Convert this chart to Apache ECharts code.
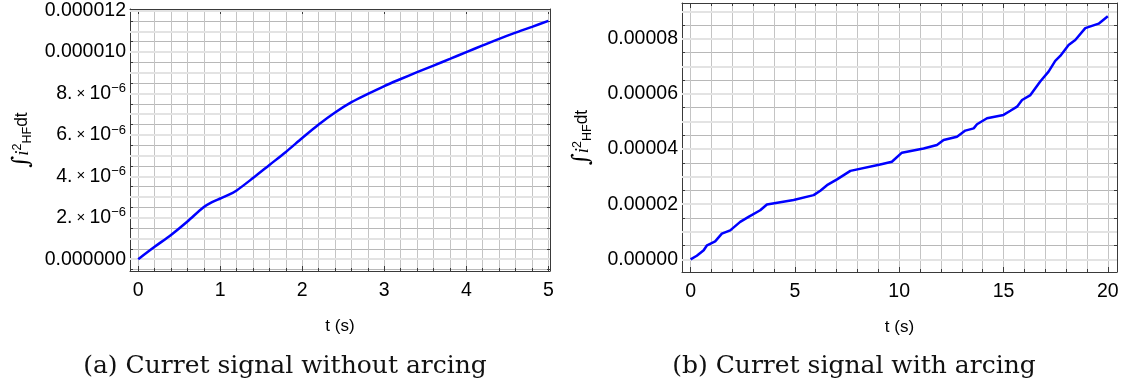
<!DOCTYPE html>
<html><head><meta charset="utf-8">
<script src="https://cdn.jsdelivr.net/npm/echarts@6/dist/echarts.min.js"></script>
<style>html,body{margin:0;padding:0;background:#fff}#c{width:1131px;height:392px}</style>
</head><body><div id="c"></div><script>
// ---- Panel (a): without arcing ----
const timeA = [0, 0.2, 0.4, 0.6, 0.8, 0.9, 1.0, 1.1, 1.2, 1.4, 1.6, 1.8, 2.0, 2.2, 2.4, 2.6, 2.8, 3.0, 3.2, 3.4, 3.6, 3.8, 4.0, 4.2, 4.4, 4.6, 4.8, 5.0];
const energyA = [0, 0.60e-6, 1.17e-6, 1.82e-6, 2.52e-6, 2.76e-6, 2.93e-6, 3.10e-6, 3.32e-6, 3.92e-6, 4.55e-6, 5.18e-6, 5.85e-6, 6.50e-6, 7.08e-6, 7.58e-6, 7.98e-6, 8.36e-6, 8.70e-6, 9.03e-6, 9.35e-6, 9.67e-6, 10.00e-6, 10.32e-6, 10.64e-6, 10.94e-6, 11.22e-6, 11.51e-6];
// ---- Panel (b): with arcing ----
const timeB = [0, 0.3, 0.63, 0.79, 1.18, 1.5, 1.9, 2.38, 2.78, 3.34, 3.66, 4.94, 5.9, 6.22, 6.54, 7.02, 7.66, 9.09, 9.65, 10.13, 11.17, 11.81, 12.13, 12.77, 13.17, 13.57, 13.73, 14.21, 15.0, 15.33, 15.65, 15.89, 16.29, 16.76, 17.16, 17.48, 17.72, 18.12, 18.44, 18.92, 19.56, 20.0];
const energyB = [0, 0.13e-5, 0.33e-5, 0.51e-5, 0.65e-5, 0.93e-5, 1.05e-5, 1.36e-5, 1.54e-5, 1.78e-5, 1.99e-5, 2.15e-5, 2.33e-5, 2.49e-5, 2.69e-5, 2.90e-5, 3.21e-5, 3.44e-5, 3.54e-5, 3.87e-5, 4.02e-5, 4.15e-5, 4.33e-5, 4.45e-5, 4.67e-5, 4.75e-5, 4.90e-5, 5.12e-5, 5.24e-5, 5.39e-5, 5.54e-5, 5.78e-5, 5.96e-5, 6.45e-5, 6.81e-5, 7.20e-5, 7.38e-5, 7.78e-5, 7.96e-5, 8.39e-5, 8.55e-5, 8.82e-5];
// ---- Tick labels ----
const yTicksA = [0, 2e-6, 4e-6, 6e-6, 8e-6, 10e-6, 12e-6];
const yTickTextA = ['0.000000', '{m|2.}{x| × }{m|10}{s|−6}', '{m|4.}{x| × }{m|10}{s|−6}', '{m|6.}{x| × }{m|10}{s|−6}', '{m|8.}{x| × }{m|10}{s|−6}', '0.000010', '0.000012'];
const yTicksB = [0, 2e-5, 4e-5, 6e-5, 8e-5];
const yTickTextB = ['0.00000', '0.00002', '0.00004', '0.00006', '0.00008'];
const xTicksA = [0, 1, 2, 3, 4, 5];
const xTicksB = [0, 5, 10, 15, 20];
const xTitle = 't (s)';
const yTitle = '{int|∫}{it|i}{sup|2}{sub|HF}{n|dt}';
const captions = ['(a) Curret signal without arcing', '(b) Curret signal with arcing'];

const SANS = '"Liberation Sans", Arial, sans-serif';
const FRAME = '#3a3a3a';

function lookup(ticks, texts) {
  return function (v) {
    for (let i = 0; i < ticks.length; i++) {
      const tol = Math.abs(ticks[1] - ticks[0]) * 1e-4;
      if (Math.abs(v - ticks[i]) < tol) return texts[i];
    }
    return '';
  };
}
const labelRich = {
  m: {fontSize: 19.5, fontFamily: SANS, color: '#000'},
  x: {fontSize: 15, fontFamily: SANS, color: '#000'},
  s: {fontSize: 13, fontFamily: SANS, color: '#000', verticalAlign: 'top', padding: [0, 0, 10, 0]}
};
const nameRich = {
  int: {fontSize: 23, fontFamily: '"DejaVu Serif", serif', color: '#000', fontStyle: 'italic'},
  it: {fontSize: 19, fontFamily: '"Liberation Serif", serif', color: '#000', fontStyle: 'italic'},
  sup: {fontSize: 12.5, fontFamily: SANS, color: '#000', padding: [0, 0, 10, 0]},
  sub: {fontSize: 12.5, fontFamily: SANS, color: '#000', padding: [10, 0, 0, 0]},
  n: {fontSize: 17.5, fontFamily: SANS, color: '#000'}
};

function xAxes(grid, min, max, major, minor, ticks, name) {
  const base = {type: 'value', gridIndex: grid, min: min, max: max, splitNumber: 50};
  const lineOn = {show: true, onZero: false, lineStyle: {color: FRAME, width: 1}};
  const lineOff = {show: false, onZero: false};
  return [
    Object.assign({}, base, {position: 'bottom', minInterval: major, maxInterval: major,
      axisLine: lineOn, axisTick: {show: true, inside: true, length: 5, lineStyle: {color: FRAME}},
      axisLabel: {show: true, margin: 10, fontSize: 19.5, fontFamily: SANS, color: '#000',
        formatter: lookup(ticks, ticks.map(String))},
      splitLine: {show: false},
      name: name, nameLocation: 'middle', nameGap: 47,
      nameTextStyle: {fontSize: 17, fontFamily: SANS, color: '#000'}}),
    Object.assign({}, base, {position: 'bottom', minInterval: minor, maxInterval: minor,
      axisLine: lineOff, axisTick: {show: true, inside: true, length: 3, lineStyle: {color: FRAME}},
      axisLabel: {show: false},
      splitLine: {show: true, showMinLine: false, showMaxLine: false, lineStyle: {color: '#c4c4c4', width: 1}}}),
    Object.assign({}, base, {position: 'top', minInterval: major, maxInterval: major,
      axisLine: lineOn, axisTick: {show: true, inside: true, length: 5, lineStyle: {color: FRAME}},
      axisLabel: {show: false}, splitLine: {show: false}}),
    Object.assign({}, base, {position: 'top', minInterval: minor, maxInterval: minor,
      axisLine: lineOff, axisTick: {show: true, inside: true, length: 3, lineStyle: {color: FRAME}},
      axisLabel: {show: false}, splitLine: {show: false}})
  ];
}
function yAxes(grid, min, max, major, minor, light, ticks, texts, nameGap) {
  const base = {type: 'value', gridIndex: grid, min: min, max: max, splitNumber: 50};
  const lineOn = {show: true, onZero: false, lineStyle: {color: FRAME, width: 1}};
  const lineOff = {show: false, onZero: false};
  return [
    Object.assign({}, base, {position: 'left', minInterval: major, maxInterval: major,
      axisLine: lineOn, axisTick: {show: true, inside: true, length: 5, lineStyle: {color: FRAME}},
      axisLabel: {show: true, margin: 4, fontSize: 19.5, fontFamily: SANS, color: '#000',
        formatter: lookup(ticks, texts), rich: labelRich},
      splitLine: {show: false},
      name: yTitle, nameLocation: 'middle', nameRotate: 90, nameGap: nameGap,
      nameTextStyle: {fontSize: 17.5, fontFamily: SANS, color: '#000', rich: nameRich}}),
    Object.assign({}, base, {position: 'left', minInterval: minor, maxInterval: minor,
      axisLine: lineOff, axisTick: {show: true, inside: true, length: 3, lineStyle: {color: FRAME}},
      axisLabel: {show: false},
      splitLine: {show: true, showMinLine: false, showMaxLine: false, lineStyle: {color: '#b8b8b8', width: 1}}}),
    Object.assign({}, base, {position: 'left', minInterval: light, maxInterval: light, z: 1,
      axisLine: lineOff, axisTick: {show: false}, axisLabel: {show: false},
      splitLine: {show: true, showMinLine: false, showMaxLine: false, lineStyle: {color: '#e3e3e3', width: 2}}}),
    Object.assign({}, base, {position: 'right', minInterval: major, maxInterval: major,
      axisLine: lineOn, axisTick: {show: true, inside: true, length: 5, lineStyle: {color: FRAME}},
      axisLabel: {show: false}, splitLine: {show: false}}),
    Object.assign({}, base, {position: 'right', minInterval: minor, maxInterval: minor,
      axisLine: lineOff, axisTick: {show: true, inside: true, length: 3, lineStyle: {color: FRAME}},
      axisLabel: {show: false}, splitLine: {show: false}})
  ];
}

const chart = echarts.init(document.getElementById('c'), null, {renderer: 'canvas'});
chart.setOption({
  animation: false,
  backgroundColor: '#fff',
  grid: [
    {left: 130, top: 9, width: 420, height: 262},
    {left: 682, top: 3, width: 435, height: 269}
  ],
  xAxis: [].concat(
    xAxes(0, -0.1, 5.02, 1, 0.2, xTicksA, xTitle),
    xAxes(1, -0.41, 20.44, 5, 1, xTicksB, xTitle)
  ),
  yAxis: [].concat(
    yAxes(0, -0.57e-6, 12.08e-6, 2e-6, 0.5e-6, 1e-6, yTicksA, yTickTextA, 96),
    yAxes(1, -0.46e-5, 9.3e-5, 2e-5, 0.5e-5, 1e-5, yTicksB, yTickTextB, 88)
  ),
  series: [
    {type: 'line', xAxisIndex: 0, yAxisIndex: 0, showSymbol: false, smooth: 0.3,
      lineStyle: {color: '#0000ff', width: 2.5}, z: 5,
      data: timeA.map((t, i) => [t, energyA[i]])},
    {type: 'line', xAxisIndex: 4, yAxisIndex: 5, showSymbol: false,
      lineStyle: {color: '#0000ff', width: 2.5}, z: 5,
      data: timeB.map((t, i) => [t, energyB[i]])}
  ],
  graphic: [
    {type: 'text', x: 285, y: 366, style: {text: captions[0], fontSize: 25, fontFamily: '"DejaVu Serif", serif', fill: '#111', align: 'center', verticalAlign: 'middle'}},
    {type: 'text', x: 854, y: 366, style: {text: captions[1], fontSize: 25, fontFamily: '"DejaVu Serif", serif', fill: '#111', align: 'center', verticalAlign: 'middle'}}
  ]
});
</script></body></html>
